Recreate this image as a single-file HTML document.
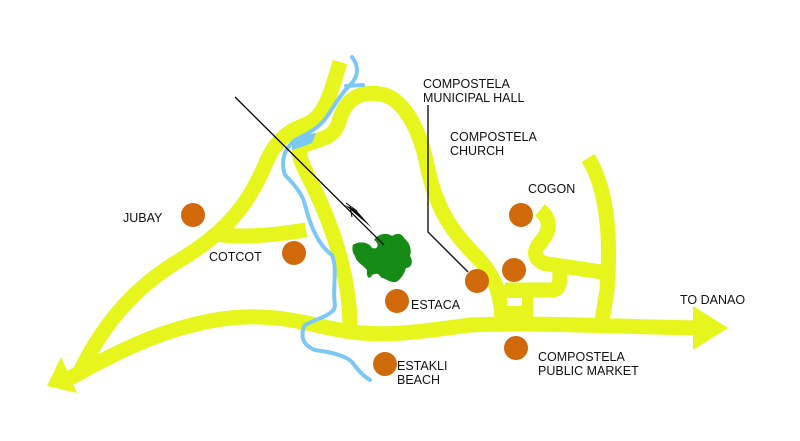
<!DOCTYPE html>
<html><head><style>
html,body{margin:0;padding:0;background:#fff;}
svg{display:block;}
text{font-family:"Liberation Sans",Arial,sans-serif;font-size:12.5px;fill:#111;}
</style></head><body>
<svg width="800" height="441" viewBox="0 0 800 441" xmlns="http://www.w3.org/2000/svg">
<rect width="800" height="441" fill="#fff"/>
<g fill="none" stroke="#e6f51c" stroke-width="15" stroke-linecap="butt" stroke-linejoin="round">
  <path d="M70,378 C120,350 170,325 230,318 C280,313 310,325 340,330 C380,338 420,332 470,325 C540,322 620,327 700,328"/>
  <path d="M80,372 C100,330 130,290 180,260 C230,230 250,200 265,165 C275,140 290,130 305,125 C325,117 330,95 340,62"/>
  <path d="M215,234 C240,238 270,236 306,230"/>
  <path d="M350,328 C350,280 335,230 310,180 C300,160 295,150 305,145 C320,138 335,140 340,118 C348,95 365,90 385,95 C405,102 420,130 427,165 C435,205 450,230 475,255 C495,275 502,295 502,325"/>
  <path d="M505,290 L552,290 C560,290 560,282 560,268"/>
  <path d="M540,210 C552,220 550,232 540,243 C532,252 535,262 548,264 L602,272"/>
  <path d="M588,158 C605,185 612,230 607,290 L601,327"/>
</g>
<rect x="495" y="285" width="38" height="40" fill="#e6f51c"/>
<rect x="507" y="298" width="15" height="8" fill="#fff"/>
<polygon points="693,306 728,328 693,350" fill="#e6f51c"/>
<polygon points="47,386 61,357 77,393" fill="#e6f51c"/>
<g fill="none" stroke="#7cc8f4" stroke-width="4" stroke-linecap="round" stroke-linejoin="round">
  <path d="M352,57 C358,65 360,75 350,85 C340,95 335,105 328,115 C320,128 305,135 295,140 C285,148 280,160 285,175 C295,185 303,195 305,205 C310,225 318,245 332,255 C338,270 332,290 335,305 C335,315 318,318 305,325 C300,335 302,345 315,350 C330,352 345,355 352,362 C358,370 362,375 370,380"/>
  <path d="M346,86 L363,85"/>
</g>
<path d="M292,140 C300,136 308,134 316,133 L312,143 C305,146 298,148 292,150 Z" fill="#7cc8f4"/>
<path d="M353,245 C360,240 370,243 372,248 C378,250 380,244 374,240 C378,234 386,232 392,236 C398,232 402,234 404,238 C410,243 412,250 410,256 C414,262 411,268 406,268 C404,275 400,280 396,282 C390,283 385,278 382,278 C378,275 380,272 372,275 C370,280 366,278 367,270 C363,265 356,262 355,256 C352,252 352,248 353,245 Z" fill="#168b16"/>
<line x1="235" y1="97" x2="384" y2="245" stroke="#000" stroke-width="1.3"/>
<path d="M345,205 L372,228 L356,210 Z" fill="#000"/>
<path d="M346,203 L357,211 M350,206 L352,217" stroke="#000" stroke-width="1"/>
<polyline points="428,105 428,232 468,272" fill="none" stroke="#222" stroke-width="1.5"/>
<g fill="#d0690a">
  <circle cx="193" cy="215" r="12"/>
  <circle cx="294" cy="253" r="12"/>
  <circle cx="397" cy="301" r="12"/>
  <circle cx="385" cy="364" r="12"/>
  <circle cx="477" cy="281" r="12"/>
  <circle cx="514" cy="270" r="12"/>
  <circle cx="521" cy="215" r="12"/>
  <circle cx="516" cy="348" r="12"/>
</g>
<text x="123" y="222">JUBAY</text>
<text x="209" y="261">COTCOT</text>
<text x="411" y="309">ESTACA</text>
<text x="397" y="370">ESTAKLI</text>
<text x="397" y="384">BEACH</text>
<text x="423" y="88">COMPOSTELA</text>
<text x="423" y="102">MUNICIPAL HALL</text>
<text x="450" y="141">COMPOSTELA</text>
<text x="450" y="155">CHURCH</text>
<text x="528" y="193">COGON</text>
<text x="680" y="304">TO DANAO</text>
<text x="538" y="361">COMPOSTELA</text>
<text x="538" y="375">PUBLIC MARKET</text>
</svg>
</body></html>
